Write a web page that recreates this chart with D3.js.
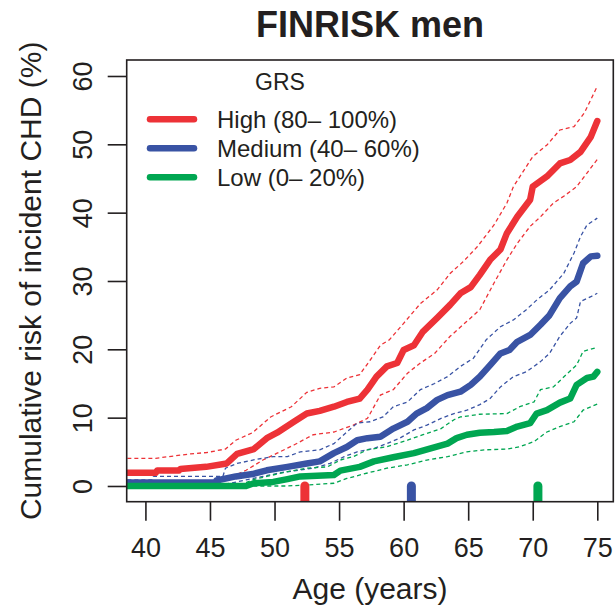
<!DOCTYPE html>
<html>
<head>
<meta charset="utf-8">
<script src="https://cdn.jsdelivr.net/npm/d3@7"></script>
<style>
  body { margin: 0; background: #fff; }
  svg text { font-family: "Liberation Sans", Arial, Helvetica, sans-serif; fill: #231f20; }
</style>
</head>
<body>
<svg id="chart" width="616" height="610"></svg>
<script>
// Kaplan-Meier style cumulative risk, [age, risk %]
var highMain = [[38.6,1.95],[40.8,1.95],[40.9,2.25],[42.6,2.25],[42.7,2.5],[44.7,2.8],[46.3,3.3],[47.1,4.7],[48.4,5.4],[49.4,7.0],[50.2,7.8],[51.5,9.4],[52.5,10.6],[53.5,11.0],[54.6,11.6],[55.6,12.3],[56.6,12.8],[57.2,14.1],[57.9,16.0],[58.7,17.5],[59.5,18.0],[60.0,19.9],[60.8,20.6],[61.5,22.6],[62.6,24.6],[63.6,26.5],[64.4,28.2],[65.2,29.1],[65.9,30.9],[66.7,33.1],[67.5,34.6],[68.0,37.0],[68.8,39.4],[69.8,41.9],[70.0,43.8],[71.1,45.3],[72.1,47.2],[72.9,47.7],[73.7,48.9],[74.5,51.1],[75.0,53.4]];
var highUpper = [[38.6,4.05],[40.8,4.05],[43.5,4.7],[44.75,4.9],[46.2,5.4],[47.0,6.7],[48.3,7.8],[49.7,10.1],[51.3,11.6],[52.5,13.7],[53.5,14.3],[54.6,14.5],[55.6,15.8],[56.6,16.3],[57.4,18.4],[58.2,20.6],[58.9,21.4],[60.0,23.8],[61.3,26.7],[62.6,28.7],[63.6,31.1],[64.6,32.8],[65.7,35.0],[67.0,38.2],[68.0,41.4],[68.5,43.8],[70.0,48.2],[71.1,49.9],[72.1,52.1],[73.2,52.6],[74.0,54.6],[75.0,58.5]];
var highLower = [[38.6,0.15],[41.7,0.15],[45.0,0.5],[46.3,1.0],[47.8,2.3],[49.1,3.8],[50.2,4.8],[51.5,6.0],[53.0,7.5],[54.6,7.9],[56.1,8.9],[57.2,9.9],[58.2,13.3],[59.2,14.1],[60.3,16.5],[61.3,18.0],[62.4,19.4],[63.6,21.9],[64.9,24.1],[65.9,25.8],[67.0,29.7],[68.0,33.1],[68.8,35.5],[69.8,38.0],[70.6,39.4],[71.6,41.4],[72.4,42.4],[73.4,43.8],[74.2,45.8],[75.0,47.8]];

var medMain = [[38.6,0.5],[45.4,0.5],[45.5,0.8],[47.0,1.4],[48.3,1.75],[49.4,2.3],[51.0,2.8],[52.5,3.3],[53.5,3.6],[54.6,4.8],[55.6,5.7],[56.4,6.7],[57.2,7.0],[58.2,7.2],[59.2,8.4],[60.3,9.4],[61.0,10.6],[61.8,11.4],[62.6,12.6],[63.4,13.3],[64.4,13.8],[65.2,14.8],[65.9,16.0],[66.7,17.7],[67.5,19.4],[68.2,19.9],[68.8,21.1],[69.8,22.1],[70.6,23.6],[71.3,25.0],[72.1,27.5],[72.9,29.2],[73.4,29.9],[73.9,32.6],[74.5,33.6],[75.0,33.7]];
var medUpper = [[38.6,0.9],[40.5,0.9],[40.6,1.4],[46.0,1.4],[46.2,2.6],[47.1,3.3],[48.6,3.9],[49.9,4.3],[51.0,4.3],[52.0,5.0],[53.5,5.3],[54.6,6.2],[55.6,7.9],[56.4,9.2],[57.4,9.4],[58.4,10.1],[59.2,11.6],[60.3,12.3],[61.3,14.1],[62.4,15.0],[63.4,16.0],[64.4,17.5],[65.4,18.7],[66.4,21.4],[67.5,23.3],[68.5,24.3],[69.5,25.8],[70.3,27.2],[71.3,28.7],[72.4,31.1],[73.2,34.1],[73.7,36.5],[74.2,38.2],[75.0,39.2]];
var medLower = [[38.6,0],[45.3,0],[46.6,0.4],[47.8,0.9],[49.1,1.4],[50.5,1.95],[51.8,2.3],[53.0,2.6],[54.3,3.3],[55.4,4.3],[56.4,5.0],[57.7,5.5],[58.7,6.2],[59.7,7.0],[60.8,8.2],[61.8,8.9],[62.9,9.9],[63.9,10.6],[64.9,11.1],[65.9,11.9],[66.7,12.8],[67.5,14.5],[68.5,16.0],[69.5,16.7],[70.6,18.2],[71.3,19.4],[72.1,21.9],[72.9,23.8],[73.4,24.6],[73.7,27.0],[74.5,27.7],[75.0,28.2]];

var lowMain = [[38.6,0],[47.8,0],[48.4,0.4],[49.9,0.6],[51.0,1.0],[52.0,1.4],[53.3,1.5],[54.6,1.6],[55.1,2.25],[56.6,2.8],[57.7,3.6],[59.2,4.2],[60.8,4.8],[62.1,5.5],[63.4,6.2],[64.1,7.0],[64.9,7.5],[65.9,7.8],[67.0,7.9],[68.0,8.05],[68.8,8.7],[69.8,9.2],[70.3,10.6],[71.1,11.1],[72.1,12.2],[72.9,12.8],[73.4,14.8],[74.2,15.8],[74.7,16.0],[75.0,16.7]];
var lowUpper = [[38.6,0.25],[47.5,0.25],[48.3,0.9],[49.4,1.4],[51.0,2.1],[52.5,2.6],[54.1,2.8],[55.1,3.8],[56.1,4.3],[57.2,5.3],[58.7,5.75],[60.3,6.7],[61.5,7.5],[62.9,8.4],[63.9,9.7],[64.4,10.1],[65.9,10.5],[68.0,10.6],[69.0,11.6],[70.1,12.3],[70.6,14.1],[71.6,14.5],[72.6,16.3],[73.4,17.7],[73.9,19.7],[75.0,20.3]];
var lowLower = [[38.6,0],[51.0,0],[52.5,0.15],[54.6,0.4],[55.6,1.1],[57.2,1.9],[58.7,2.6],[60.3,3.1],[61.8,3.8],[63.4,4.3],[64.9,5.0],[66.4,5.3],[68.0,5.4],[69.0,5.75],[70.1,6.5],[71.1,7.9],[72.1,8.7],[73.2,9.4],[73.9,11.1],[75.0,12.0]];

var groups = ["High (80\u2013 100%)", "Medium (40\u2013 60%)", "Low (0\u2013 20%)"];
var medianAge = [52.35, 60.6, 70.4];   // rug marks on the x axis
var xTicks = [40, 45, 50, 55, 60, 65, 70, 75];
var yTicks = [0, 10, 20, 30, 40, 50, 60];

var colors = ["#ed3237", "#3953a4", "#00a651"];
var series = [
  { main: highMain, ci: [highUpper, highLower] },
  { main: medMain,  ci: [medUpper,  medLower]  },
  { main: lowMain,  ci: [lowUpper,  lowLower]  }
];

var svg = d3.select("#chart");
var pLeft = 126.7, pRight = 613.3, pTop = 60, pBottom = 501.7;

var x = d3.scaleLinear().domain([38.55, 76.24]).range([pLeft, pRight]);
var y = d3.scaleLinear().domain([-2.3, 62.34]).range([pBottom, pTop]);

svg.append("defs").append("clipPath").attr("id", "plotclip")
  .append("rect").attr("x", pLeft).attr("y", pTop)
  .attr("width", pRight - pLeft).attr("height", pBottom - pTop);

var line = d3.line()
  .x(function (d) { return x(d[0]); })
  .y(function (d) { return y(d[1]); })
  .curve(d3.curveLinear);

var plot = svg.append("g").attr("clip-path", "url(#plotclip)");

// confidence bands
series.forEach(function (s, i) {
  s.ci.forEach(function (c) {
    plot.append("path")
      .datum(c)
      .attr("d", line)
      .attr("fill", "none")
      .attr("stroke", colors[i])
      .attr("stroke-width", 1.3)
      .attr("stroke-dasharray", "4,3");
  });
});

// main curves
series.forEach(function (s, i) {
  plot.append("path")
    .datum(s.main)
    .attr("d", line)
    .attr("fill", "none")
    .attr("stroke", colors[i])
    .attr("stroke-width", 6.5)
    .attr("stroke-linejoin", "round")
    .attr("stroke-linecap", "round");
});

// rug marks
plot.selectAll(".rug")
  .data(medianAge)
  .enter().append("line")
  .attr("class", "rug")
  .attr("x1", function (d) { return x(d); })
  .attr("x2", function (d) { return x(d); })
  .attr("y1", y(0))
  .attr("y2", pBottom + 10)
  .attr("stroke", function (d, i) { return colors[i]; })
  .attr("stroke-width", 9)
  .attr("stroke-linecap", "round");

// box
svg.append("rect")
  .attr("x", pLeft).attr("y", pTop)
  .attr("width", pRight - pLeft).attr("height", pBottom - pTop)
  .attr("fill", "none").attr("stroke", "#231f20").attr("stroke-width", 1.6);

// x axis
var xAxis = svg.append("g")
  .attr("transform", "translate(0," + pBottom + ")")
  .call(d3.axisBottom(x).tickValues(xTicks).tickSize(19).tickFormat(d3.format("d")));
xAxis.select(".domain").remove();
xAxis.selectAll("line").attr("stroke", "#231f20").attr("stroke-width", 1.6);
xAxis.selectAll("text")
  .attr("y", 55.5).attr("dy", null)
  .style("font-size", "27px").attr("fill", "#231f20");

// y axis
var yAxis = svg.append("g")
  .attr("transform", "translate(" + pLeft + ",0)")
  .call(d3.axisLeft(y).tickValues(yTicks).tickSize(19).tickFormat(d3.format("d")));
yAxis.select(".domain").remove();
yAxis.selectAll("line").attr("stroke", "#231f20").attr("stroke-width", 1.6);
yAxis.selectAll("text")
  .attr("x", 0).attr("y", -34.7).attr("dy", null)
  .attr("transform", "rotate(-90)")
  .attr("text-anchor", "middle")
  .style("font-size", "27px").attr("fill", "#231f20");

// titles
svg.append("text")
  .attr("x", (pLeft + pRight) / 2).attr("y", 37)
  .attr("text-anchor", "middle")
  .style("font-size", "36px").style("font-weight", "bold")
  .text("FINRISK men");

svg.append("text")
  .attr("x", (pLeft + pRight) / 2).attr("y", 599)
  .attr("text-anchor", "middle")
  .style("font-size", "30px")
  .text("Age (years)");

svg.append("text")
  .attr("transform", "translate(41," + ((pTop + pBottom) / 2) + ") rotate(-90)")
  .attr("text-anchor", "middle")
  .style("font-size", "30px")
  .text("Cumulative risk of incident CHD (%)");

// legend
var legend = svg.append("g");
legend.append("text")
  .attr("x", 280).attr("y", 90)
  .attr("text-anchor", "middle")
  .style("font-size", "23px")
  .text("GRS");

var item = legend.selectAll(".item")
  .data(groups)
  .enter().append("g")
  .attr("class", "item")
  .attr("transform", function (d, i) { return "translate(0," + (128.3 + i * 29) + ")"; });

item.append("line")
  .attr("x1", 150).attr("x2", 194)
  .attr("y1", -9).attr("y2", -9)
  .attr("stroke", function (d, i) { return colors[i]; })
  .attr("stroke-width", 6.5)
  .attr("stroke-linecap", "round");

item.append("text")
  .attr("x", 217).attr("y", 0)
  .style("font-size", "24px")
  .text(function (d) { return d; });
</script>
</body>
</html>
